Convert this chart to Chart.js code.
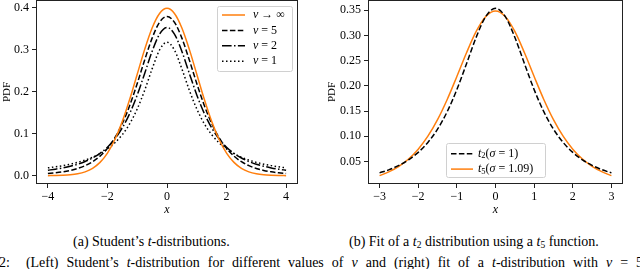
<!DOCTYPE html>
<html>
<head>
<meta charset="utf-8">
<script src="https://cdn.jsdelivr.net/npm/chart.js@4.4.1/dist/chart.umd.min.js"></script>
<style>
  body { margin: 0; background: #fff; width: 640px; height: 269px; overflow: hidden; position: relative; }
  .plot { position: absolute; top: 0; width: 320px; height: 230px; }
  .cap { position: absolute; font-family: 'Liberation Serif', serif; font-size: 14px; color: #000; white-space: nowrap; line-height: 16px; }
  .cap sub { font-size: 9.5px; vertical-align: -2px; line-height: 0; }
</style>
</head>
<body>
<div class="plot" style="left:0"><canvas id="left" width="320" height="230"></canvas></div>
<div class="plot" style="left:320px"><canvas id="right" width="320" height="230"></canvas></div>
<div class="cap" id="capA" style="top:234px;left:73px">(a) Student’s <i>t</i>-distributions.</div>
<div class="cap" id="capB" style="top:234px;left:349px">(b) Fit of a <i>t</i><sub>2</sub> distribution using a <i>t</i><sub>5</sub> function.</div>
<div class="cap" style="top:255px;left:-1px;word-spacing:4.5px">2: &nbsp;(Left) Student’s <i>t</i>-distribution for different values of <i>ν</i> and (right) fit of a <i>t</i>-distribution with <i>ν</i> = 5</div>
<script>
// left panel: x grid and pdf values
const xLeft = [-4,-3.75,-3.5,-3.25,-3,-2.75,-2.5,-2.25,-2,-1.75,-1.5,-1.25,-1,-0.75,-0.5,-0.25,0,0.25,0.5,0.75,1,1.25,1.5,1.75,2,2.25,2.5,2.75,3,3.25,3.5,3.75,4];
const nuInf = [0.00013,0.00035,0.00087,0.0020,0.0044,0.0091,0.0175,0.0317,0.0540,0.0863,0.1295,0.1826,0.2420,0.3011,0.3521,0.3867,0.3989,0.3867,0.3521,0.3011,0.2420,0.1826,0.1295,0.0863,0.0540,0.0317,0.0175,0.0091,0.0044,0.0020,0.00087,0.00035,0.00013];
const nu5 = [0.0051,0.0069,0.0092,0.0126,0.0173,0.0239,0.0333,0.0466,0.0651,0.0905,0.1245,0.1679,0.2197,0.2757,0.3279,0.3657,0.3796,0.3657,0.3279,0.2757,0.2197,0.1679,0.1245,0.0905,0.0651,0.0466,0.0333,0.0239,0.0173,0.0126,0.0092,0.0069,0.0051];
const nu2 = [0.0131,0.0155,0.0186,0.0225,0.0274,0.0338,0.0422,0.0533,0.0680,0.0878,0.1141,0.1487,0.1925,0.2438,0.2963,0.3376,0.3536,0.3376,0.2963,0.2438,0.1925,0.1487,0.1141,0.0878,0.0680,0.0533,0.0422,0.0338,0.0274,0.0225,0.0186,0.0155,0.0131];
const nu1 = [0.0187,0.0211,0.0240,0.0275,0.0318,0.0372,0.0439,0.0525,0.0637,0.0784,0.0979,0.1242,0.1592,0.2037,0.2546,0.2996,0.3183,0.2996,0.2546,0.2037,0.1592,0.1242,0.0979,0.0784,0.0637,0.0525,0.0439,0.0372,0.0318,0.0275,0.0240,0.0211,0.0187];
const xTicksLeft = [-4,-2,0,2,4];
const yTicksLeft = [0,0.1,0.2,0.3,0.4];

// right panel
const xRight = [-3,-2.75,-2.5,-2.25,-2,-1.75,-1.5,-1.25,-1,-0.75,-0.5,-0.25,0,0.25,0.5,0.75,1,1.25,1.5,1.75,2,2.25,2.5,2.75,3];
const t2 = [0.0274,0.0338,0.0422,0.0533,0.0680,0.0878,0.1141,0.1487,0.1925,0.2438,0.2963,0.3376,0.3536,0.3376,0.2963,0.2438,0.1925,0.1487,0.1141,0.0878,0.0680,0.0533,0.0422,0.0338,0.0274];
const t5fit = [0.0219,0.0297,0.0403,0.0548,0.0743,0.1001,0.1329,0.1729,0.2184,0.2655,0.3078,0.3375,0.3483,0.3375,0.3078,0.2655,0.2184,0.1729,0.1329,0.1001,0.0743,0.0548,0.0403,0.0297,0.0219];
const xTicksRight = [-3,-2,-1,0,1,2,3];
const yTicksRight = [0.05,0.10,0.15,0.20,0.25,0.30,0.35];

const ORANGE = "#ff7f0e";
const SERIF = "'Liberation Serif', 'DejaVu Serif', serif";
Chart.defaults.font.family = SERIF;
Chart.defaults.font.size = 11;
Chart.defaults.color = "#000";

const pts = (xs, ys) => xs.map((x, i) => ({ x: x, y: ys[i] }));
const minus = (v, d) => {
	const s = Math.abs(v).toFixed(d);
	return v < 0 ? "\u2212" + s : s;
};

const line = (label, xs, ys, color, dash) => ({
	label: label,
	data: pts(xs, ys),
	borderColor: color,
	borderWidth: 1.5,
	borderDash: dash,
	pointRadius: 0,
	cubicInterpolationMode: "monotone",
	fill: false,
});

// spines on all four sides
const frame = {
	id: "frame",
	afterDatasetsDraw(chart) {
		const a = chart.chartArea;
		const c = chart.ctx;
		c.save();
		c.strokeStyle = "#222";
		c.lineWidth = 1;
		c.strokeRect(Math.round(a.left) + 0.5, Math.round(a.top) + 0.5, Math.round(a.right - a.left) - 1, Math.round(a.bottom - a.top) - 1);
		c.restore();
	},
};

// draws runs of [text, italic, size, dy]
const richText = (c, x, y, parts) => {
	parts.forEach((p) => {
		c.font = (p[1] ? "italic " : "") + p[2] + "px " + SERIF;
		c.fillText(p[0], x, y + p[3]);
		x += c.measureText(p[0]).width;
	});
};

const legendBox = (opts) => ({
	id: "legendBox",
	afterDraw(chart) {
		const c = chart.ctx;
		const b = opts.box;
		c.save();
		c.beginPath();
		c.roundRect(b[0] + 0.5, b[1] + 0.5, b[2], b[3], 2);
		c.fillStyle = "rgba(255,255,255,0.85)";
		c.fill();
		c.strokeStyle = "#d0d0d0";
		c.lineWidth = 1;
		c.stroke();
		c.textBaseline = "middle";
		c.fillStyle = "#000";
		opts.rows.forEach((r, i) => {
			const y = opts.y0 + i * opts.dy;
			c.beginPath();
			c.setLineDash(r.dash);
			c.strokeStyle = r.color;
			c.lineWidth = 1.5;
			c.moveTo(opts.lx0, y);
			c.lineTo(opts.lx1, y);
			c.stroke();
			c.setLineDash([]);
			richText(c, opts.tx, y, r.parts);
		});
		c.restore();
	},
});

const axes = (xmin, xmax, ymin, ymax, xt, yt, yd, yWidth, yTitlePad) => ({
	x: {
		type: "linear",
		min: xmin,
		max: xmax,
		afterBuildTicks: (s) => { s.ticks = xt.map((v) => ({ value: v })); },
		afterFit: (s) => { s.height = 46; s.paddingLeft = 0; s.paddingRight = 0; },
		ticks: { callback: (v) => minus(v, 0), padding: 2, maxRotation: 0, font: { size: 12 } },
		grid: { drawOnChartArea: false, drawTicks: true, tickLength: 4, tickColor: "#222", tickWidth: 1 },
		border: { display: false },
		title: { display: true, text: "x", font: { style: "italic", size: 12 }, padding: { top: 0, bottom: 13 } },
	},
	y: {
		type: "linear",
		min: ymin,
		max: ymax,
		afterBuildTicks: (s) => { s.ticks = yt.map((v) => ({ value: v })); },
		afterFit: (s) => { s.width = yWidth; s.paddingTop = 0; s.paddingBottom = 0; },
		ticks: { callback: (v) => v.toFixed(yd), padding: 3, font: { size: 12 } },
		grid: { drawOnChartArea: false, drawTicks: true, tickLength: 4, tickColor: "#222", tickWidth: 1 },
		border: { display: false },
		title: { display: true, text: "PDF", font: { size: 11 }, padding: { top: yTitlePad, bottom: 0 } },
	},
});

new Chart(document.getElementById("left").getContext("2d"), {
	type: "line",
	data: {
		datasets: [
			line("ν → ∞", xLeft, nuInf, ORANGE, []),
			line("ν = 5", xLeft, nu5, "#000", [5.5, 2.4]),
			line("ν = 2", xLeft, nu2, "#000", [9.6, 2.4, 1.5, 2.4]),
			line("ν = 1", xLeft, nu1, "#000", [1.5, 2.5]),
		],
	},
	options: {
		responsive: false,
		animation: false,
		layout: { padding: { left: 0, right: 22, top: 0, bottom: 0 } },
		plugins: { legend: { display: false }, tooltip: { enabled: false } },
		scales: axes(-4.4, 4.4, -0.0198, 0.4188, xTicksLeft, yTicksLeft, 1, 36, 1),
	},
	plugins: [
		frame,
		legendBox({
			box: [217, 6, 75, 65], y0: 15, dy: 15.4, lx0: 222, lx1: 245, tx: 253,
			rows: [
				{ color: ORANGE, dash: [], parts: [["ν", true, 12, 0], [" → ∞", false, 12, 0]] },
				{ color: "#000", dash: [5.5, 2.4], parts: [["ν", true, 12, 0], [" = 5", false, 12, 0]] },
				{ color: "#000", dash: [9.6, 2.4, 1.5, 2.4], parts: [["ν", true, 12, 0], [" = 2", false, 12, 0]] },
				{ color: "#000", dash: [1.5, 2.5], parts: [["ν", true, 12, 0], [" = 1", false, 12, 0]] },
			],
		}),
	],
});

new Chart(document.getElementById("right").getContext("2d"), {
	type: "line",
	data: {
		datasets: [
			line("t2(σ = 1)", xRight, t2, "#000", [5.5, 2.4]),
			line("t5(σ = 1.09)", xRight, t5fit, ORANGE, []),
		],
	},
	options: {
		responsive: false,
		animation: false,
		layout: { padding: { left: 0, right: 17, top: 0, bottom: 0 } },
		plugins: { legend: { display: false }, tooltip: { enabled: false } },
		scales: axes(-3.3, 3.3, 0.0053, 0.3702, xTicksRight, yTicksRight, 2, 48, 6),
	},
	plugins: [
		frame,
		legendBox({
			box: [126, 143, 99, 34], y0: 153.7, dy: 15.4, lx0: 131, lx1: 153, tx: 158,
			rows: [
				{ color: "#000", dash: [5.5, 2.4], parts: [["t", true, 12, 0], ["2", false, 8.5, 2.5], ["(", false, 12, 0], ["σ", true, 12, 0], [" = 1)", false, 12, 0]] },
				{ color: ORANGE, dash: [], parts: [["t", true, 12, 0], ["5", false, 8.5, 2.5], ["(", false, 12, 0], ["σ", true, 12, 0], [" = 1.09)", false, 12, 0]] },
			],
		}),
	],
});
</script>
</body>
</html>
